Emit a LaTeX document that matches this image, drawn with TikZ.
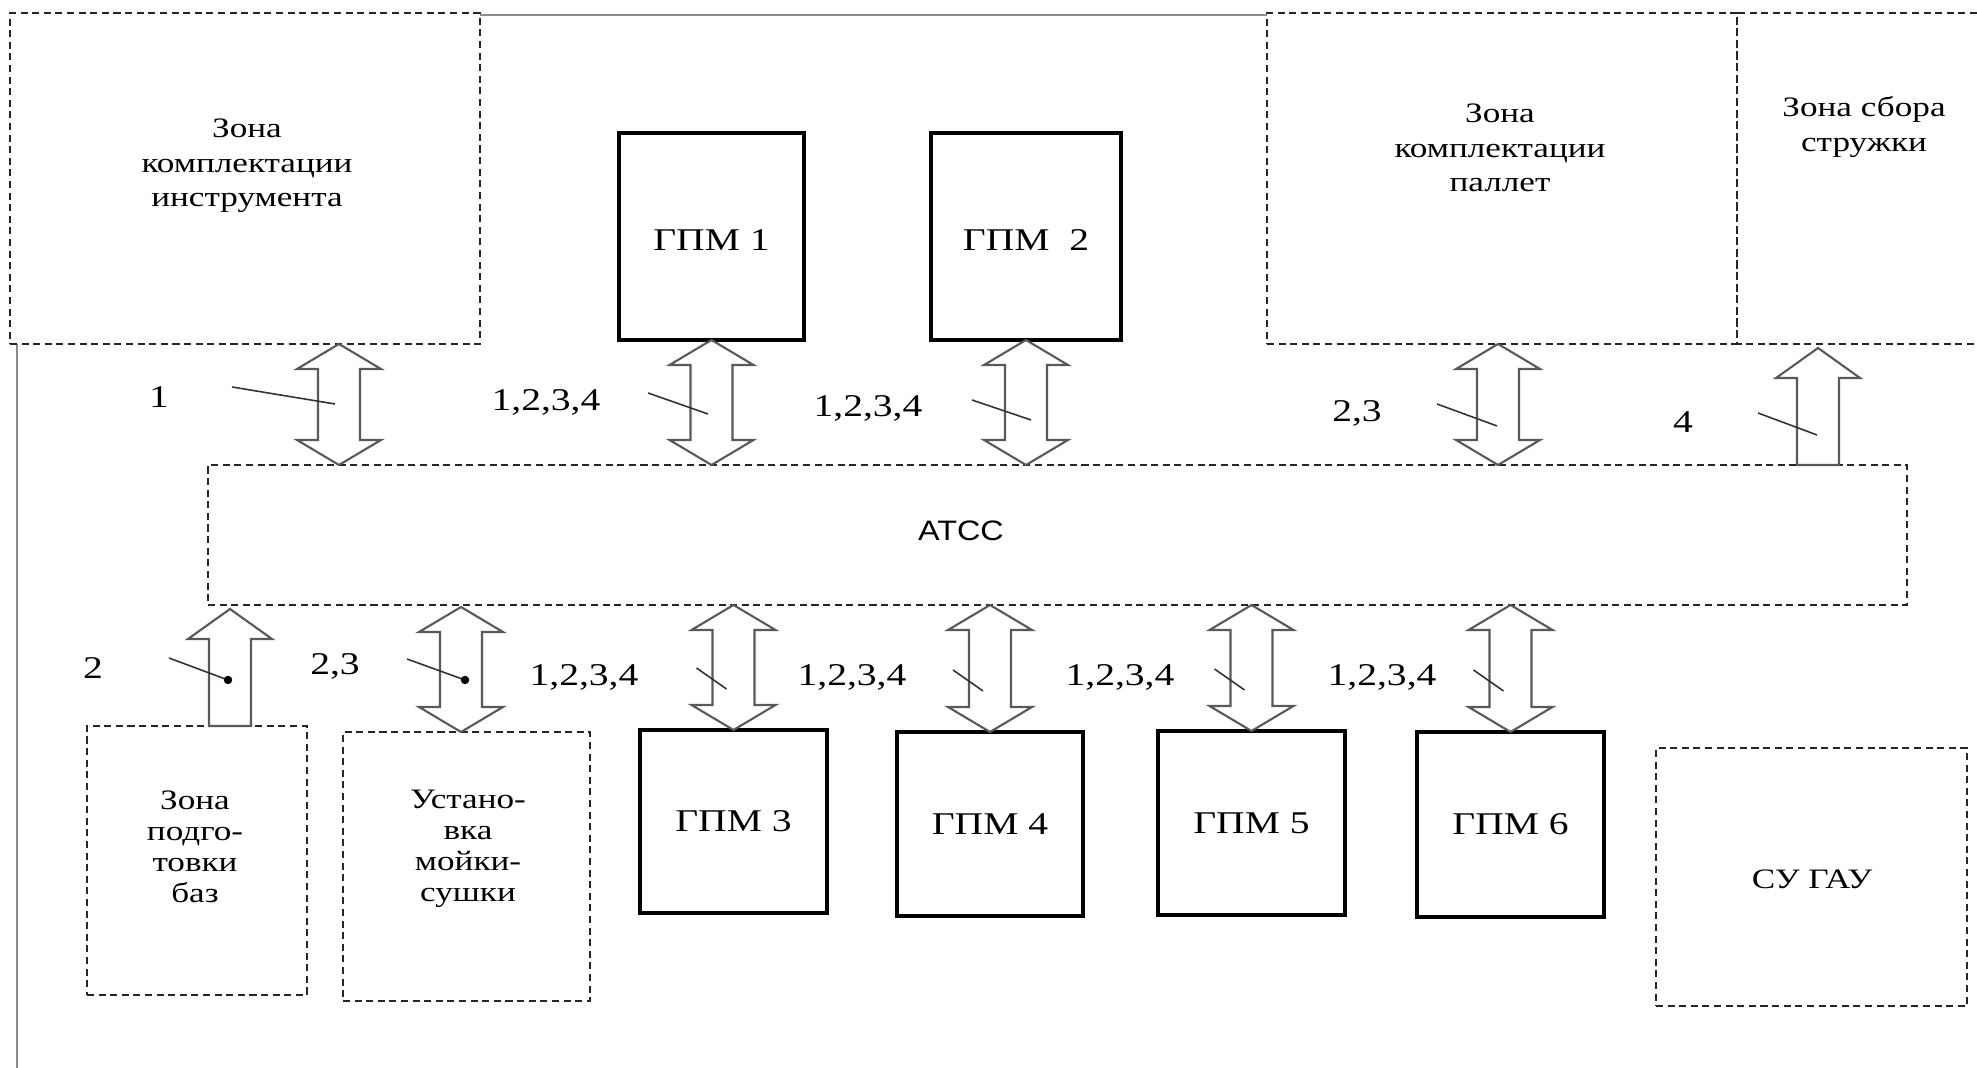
\documentclass[tikz,border=0pt]{standalone}
\usepackage{fontspec}
\setmainfont{Liberation Serif}[FakeStretch=1.25]
\setsansfont{Liberation Sans}[FakeStretch=1.15]
\usetikzlibrary{calc,fit}

% block arrow with two heads: #1 upper tip, #2 lower tip
\newcommand{\twoway}[2]{%
  \draw[blockarr] (#1) -- ($(#1)+(42,25)$) -- ($(#1)+(21,25)$)
    -- ($(#2)+(21,-25)$) -- ($(#2)+(42,-25)$) -- (#2)
    -- ($(#2)+(-42,-25)$) -- ($(#2)+(-21,-25)$)
    -- ($(#1)+(-21,25)$) -- ($(#1)+(-42,25)$) -- cycle;}
% block arrow with one head: #1 tip, #2 centre of the flat end
\newcommand{\oneway}[2]{%
  \draw[blockarr] (#1) -- ($(#1)+(42,30)$) -- ($(#1)+(21,30)$)
    -- ($(#2)+(21,0)$) -- ($(#2)+(-21,0)$)
    -- ($(#1)+(-21,30)$) -- ($(#1)+(-42,30)$) -- cycle;}

\tikzset{
  zone/.style={draw=black!85, dash pattern=on 2pt off 1.3pt, line width=0.45pt, inner sep=0pt, outer sep=0pt},
  gpm/.style={draw, line width=1.4pt, inner sep=0pt, outer sep=0pt},
  gpmtext/.style={font=\fontsize{9}{11}\selectfont, inner sep=0pt},
  ztext/.style={align=center, font=\fontsize{8}{9.8}\selectfont, inner sep=0pt},
  num/.style={font=\fontsize{9}{11}\selectfont, inner sep=0pt},
  blockarr/.style={draw=black!65, line width=0.6pt, fill=white, line join=miter},
  tick/.style={draw=black!80, line width=0.45pt},
  frame/.style={draw=black!45, line width=0.5pt},
}

\begin{document}
\begin{tikzpicture}[x=0.01cm, y=-0.01cm]
    \useasboundingbox (0,0) rectangle (1977,1068);

    % рамка участка
    \draw[frame] (480,15) -- (1267,15);
    \draw[frame] (17,344) -- (17,1068);

    % зоны сверху
    \node[zone, fit={(10,13) (480,344)}] (tool) {};
    \node[ztext] (toolT) at (247,166) {Зона\\комплектации\\инструмента};
    \node[zone, fit={(1267,13) (1737,344)}] (pallet) {};
    \node[ztext] (palletT) at (1500,148) {Зона\\комплектации\\паллет};
    \draw[zone] (1977,13) -- (1737,13) -- (1737,344) -- (1977,344);
    \node[ztext] (chipT) at (1864,127) {Зона сбора\\стружки};

    % ГПМ сверху
    \node[gpm, fit={(619,133) (804,340)}, label={[gpmtext, yshift=-0.04cm]center:ГПМ 1}] (gpm1) {};
    \node[gpm, fit={(931,133) (1121,340)}, label={[gpmtext, yshift=-0.04cm]center:ГПМ~~2}] (gpm2) {};

    % АТСС
    \node[zone, fit={(208,465) (1907,605)}] (atss) {};
    \node[font=\sffamily\fontsize{8}{10}\selectfont, inner sep=0pt] (atssT) at (961,531) {АТСС};

    % зоны и ГПМ снизу
    \node[zone, fit={(87,726) (307,995)}] (podg) {};
    \node[ztext, font=\fontsize{8}{8.8}\selectfont] (podgT) at (195,847) {Зона\\подго-\\товки\\баз};
    \node[zone, fit={(343,732) (590,1001)}] (wash) {};
    \node[ztext, font=\fontsize{8}{8.8}\selectfont] (washT) at (468,849) {Устано-\\вка\\мойки-\\сушки};
    \node[gpm, fit={(640,730) (827,913)}, label={[gpmtext]center:ГПМ 3}] (gpm3) {};
    \node[gpm, fit={(897,732) (1083,916)}, label={[gpmtext]center:ГПМ 4}] (gpm4) {};
    \node[gpm, fit={(1158,731) (1345,915)}, label={[gpmtext]center:ГПМ 5}] (gpm5) {};
    \node[gpm, fit={(1417,732) (1604,917)}, label={[gpmtext]center:ГПМ 6}] (gpm6) {};
    \node[zone, fit={(1656,748) (1967,1006)}] (sugau) {};
    \node[ztext] (sugauT) at (1812,879) {СУ ГАУ};

    % стрелки сверху
    \coordinate (x1) at (339,0);
    \coordinate (x5) at (1498,0);
    \coordinate (chipTip) at (1818,348);
    \twoway{x1 |- tool.south}{x1 |- atss.north}
    \twoway{gpm1.south}{gpm1.south |- atss.north}
    \twoway{gpm2.south}{gpm2.south |- atss.north}
    \twoway{x5 |- pallet.south}{x5 |- atss.north}
    \oneway{chipTip}{chipTip |- atss.north}

    \node[num] (n1) at (159,397) {1};
    \draw[tick] (232,387) -- (335,404);
    \node[num] (n2) at (546,402) {1,2,3,4};
    \draw[tick] (648,393) -- (708,414);
    \node[num] (n3) at (868,408) {1,2,3,4};
    \draw[tick] (972,400) -- (1031,420);
    \node[num] (n4) at (1357,413) {2,3};
    \draw[tick] (1437,404) -- (1497,426);
    \node[num] (n5) at (1683,422) {4};
    \draw[tick] (1758,413) -- (1817,435);

    % стрелки снизу
    \coordinate (podgTip) at (230,609);
    \coordinate (washTip) at (461,607);
    \oneway{podgTip}{podgTip |- podg.north}
    \twoway{washTip}{washTip |- wash.north}
    \node[num] (n6) at (93,668) {2};
    \draw[tick] (169,658) -- (228,680);
    \fill (228,680) circle[radius=1.2pt];
    \node[num] (n7) at (335,666) {2,3};
    \draw[tick] (407,659) -- (465,680);
    \fill (465,680) circle[radius=1.2pt];

    \foreach \g/\lx in {gpm3/584, gpm4/852, gpm5/1120, gpm6/1382} {
        \twoway{\g.north |- atss.south}{\g.north}
        \node[num] (l\g) at (\lx,677) {1,2,3,4};
        \draw[tick] ($(\g.north)+(-37,-62)$) -- ($(\g.north)+(-7,-41)$);
    }
\end{tikzpicture}
\end{document}
